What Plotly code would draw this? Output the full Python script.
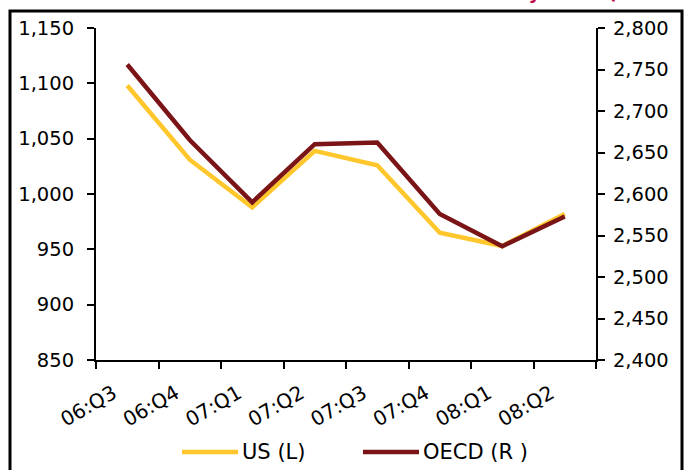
import plotly.graph_objects as go

categories = ["06:Q3", "06:Q4", "07:Q1", "07:Q2", "07:Q3", "07:Q4", "08:Q1", "08:Q2"]
us_values = [1098, 1031, 988, 1039, 1026, 965, 953, 982]
oecd_values = [2756, 2665, 2590, 2660, 2662, 2576, 2537, 2573]
series_names = ["US (L)", "OECD (R )"]

FONT = "DejaVu Sans"
YELLOW = "#FFC72C"
DARKRED = "#7A1416"
TITLE_RED = "#C0124A"
colors = [YELLOW, DARKRED]

PL, PT, PW, PH = 96, 28, 500, 332


def px(xpix):
    return (xpix - PL) / PW


def py(ypix):
    return 1 - (ypix - PT) / PH


fig = go.Figure()
fig.add_trace(go.Scatter(x=categories, y=us_values, name=series_names[0], mode="lines",
                         line=dict(color=YELLOW, width=4.5), yaxis="y", showlegend=False))
fig.add_trace(go.Scatter(x=categories, y=oecd_values, name=series_names[1], mode="lines",
                         line=dict(color=DARKRED, width=4.5), yaxis="y2", showlegend=False))

shapes = [dict(type="rect", xref="paper", yref="paper",
               x0=px(10), x1=px(682), y0=py(500), y1=py(11),
               line=dict(color="black", width=3), fillcolor="rgba(0,0,0,0)", layer="below")]
# cropped title (only descenders visible at the very top of the picture)
annotations = [
    dict(text="<b>Industrial Activity</b>", xref="paper", yref="paper",
         x=px(543), y=py(5), xanchor="right", yanchor="bottom", showarrow=False,
         font=dict(family=FONT, size=19, color=TITLE_RED)),
    dict(text="<b>(bn units)</b>", xref="paper", yref="paper",
         x=px(606), y=py(5), xanchor="left", yanchor="bottom", showarrow=False,
         font=dict(family=FONT, size=19, color=TITLE_RED)),
]

# legend keys
leg_x = [182, 363]
for i, name in enumerate(series_names):
    shapes.append(dict(type="line", xref="paper", yref="paper",
                       x0=px(leg_x[i]), x1=px(leg_x[i] + 56), y0=py(452), y1=py(452),
                       line=dict(color=colors[i], width=4.5)))
    annotations.append(dict(text=name, xref="paper", yref="paper", x=px(leg_x[i] + 58),
                            y=py(452), xanchor="left", yanchor="middle", showarrow=False,
                            font=dict(family=FONT, size=21, color="black")))

fig.update_layout(
    width=684, height=470,
    margin=dict(l=PL, r=684 - PL - PW, t=PT, b=470 - PT - PH),
    paper_bgcolor="white", plot_bgcolor="white",
    font=dict(family=FONT, size=16, color="black"),
    showlegend=False,
    xaxis=dict(type="category", showline=True, linecolor="black", linewidth=2,
               ticks="outside", tickson="boundaries", ticklen=7, tickwidth=2, tickcolor="black",
               tickangle=-30, showgrid=False, zeroline=False, ticklabelstandoff=12,
               ticklabelshift=-14,
               tickfont=dict(family=FONT, size=20), range=[-0.5, 7.5]),
    yaxis=dict(range=[850, 1150], dtick=50, tickformat=",", showline=True, linecolor="black",
               linewidth=2, ticks="outside", ticklen=7, tickwidth=2, tickcolor="black",
               showgrid=False, zeroline=False, ticklabelstandoff=9,
               tickfont=dict(family=FONT, size=19.5)),
    yaxis2=dict(range=[2400, 2800], dtick=50, tickformat=",", overlaying="y", side="right",
                showline=True, linecolor="black", linewidth=2, ticks="outside", ticklen=7,
                tickwidth=2, tickcolor="black", showgrid=False, zeroline=False,
                ticklabelstandoff=4, tickfont=dict(family=FONT, size=19.5)),
    shapes=shapes,
    annotations=annotations,
)

fig.write_html("out.html")
